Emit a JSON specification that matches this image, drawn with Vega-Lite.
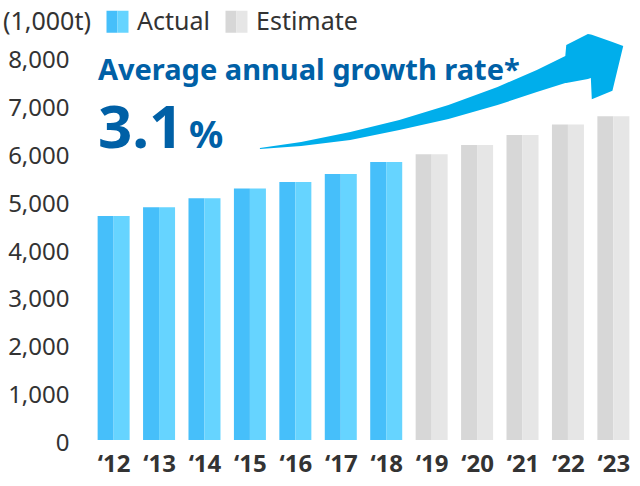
{
  "$schema": "https://vega.github.io/schema/vega-lite/v6.json",
  "width": 552,
  "height": 383,
  "autosize": {"type": "none"},
  "padding": {"left": 88, "top": 57, "right": 0, "bottom": 46},
  "background": "#ffffff",
  "config": {
    "view": {"stroke": null},
    "font": "Noto Sans",
    "axis": {"grid": false, "domain": false, "ticks": false, "title": null, "labelFont": "Noto Sans", "labelColor": "#333333"}
  },
  "datasets": {
    "bars": [
      {"year": 2012, "value": 4680, "type": "Actual"},
      {"year": 2013, "value": 4860, "type": "Actual"},
      {"year": 2014, "value": 5050, "type": "Actual"},
      {"year": 2015, "value": 5255, "type": "Actual"},
      {"year": 2016, "value": 5390, "type": "Actual"},
      {"year": 2017, "value": 5555, "type": "Actual"},
      {"year": 2018, "value": 5805, "type": "Actual"},
      {"year": 2019, "value": 5970, "type": "Estimate"},
      {"year": 2020, "value": 6160, "type": "Estimate"},
      {"year": 2021, "value": 6370, "type": "Estimate"},
      {"year": 2022, "value": 6590, "type": "Estimate"},
      {"year": 2023, "value": 6765, "type": "Estimate"}
    ],
    "arrow": [
      {"x": 2015.220, "upper": 6099, "lower": 6078},
      {"x": 2016.128, "upper": 6225, "lower": 6141},
      {"x": 2017.209, "upper": 6434, "lower": 6266},
      {"x": 2018.289, "upper": 6684, "lower": 6474},
      {"x": 2019.370, "upper": 6997, "lower": 6705},
      {"x": 2020.450, "upper": 7373, "lower": 6997},
      {"x": 2021.315, "upper": 7729, "lower": 7269},
      {"x": 2021.942, "upper": 8021, "lower": 7457},
      {"x": 2021.963, "upper": 8251, "lower": 7457},
      {"x": 2022.439, "upper": 8481, "lower": 7540},
      {"x": 2022.504, "upper": 8470, "lower": 7561},
      {"x": 2022.525, "upper": 8464, "lower": 7120},
      {"x": 2022.979, "upper": 8313, "lower": 7295},
      {"x": 2023.217, "upper": 8230, "lower": 8230}
    ]
  },
  "layer": [
    {
      "data": {"name": "bars"},
      "mark": {"type": "bar", "width": 16, "xOffset": -8},
      "encoding": {
        "x": {"field": "year", "type": "quantitative", "scale": {"domain": [2011.546, 2023.476], "nice": false, "zero": false},
          "axis": {"values": [2012, 2013, 2014, 2015, 2016, 2017, 2018, 2019, 2020, 2021, 2022, 2023],
            "labelExpr": "'‘' + slice(toString(datum.value), 2)", "labelFontSize": 24, "labelFontWeight": "bold",
            "labelFlush": false, "labelOverlap": false, "labelBound": false, "labelPadding": 12}},
        "y": {"field": "value", "type": "quantitative", "scale": {"domain": [0, 8000], "nice": false},
          "axis": {"values": [0, 1000, 2000, 3000, 4000, 5000, 6000, 7000, 8000], "format": ",d", "labelFontSize": 24, "labelPadding": 19, "labelOffset": 3.5}},
        "color": {"field": "type", "type": "nominal",
          "scale": {"domain": ["Actual", "Estimate"], "range": ["#46bffa", "#d7d7d7"]},
          "legend": {"orient": "none", "legendX": -85, "legendY": -48, "direction": "horizontal",
            "title": "(1,000t)", "titleOrient": "left", "titleFontSize": 25, "titleFontWeight": "normal", "titleColor": "#333333", "titleFont": "Noto Sans", "titlePadding": 14,
            "labelFontSize": 25, "labelColor": "#333333", "labelFont": "Noto Sans", "labelOffset": 7, "columnPadding": 14,
            "symbolType": "M -1 -1 L 0 -1 L 0 1 L -1 1 Z", "symbolSize": 484, "symbolStrokeWidth": 0, "symbolOpacity": 1}}
      }
    },
    {
      "data": {"name": "bars"},
      "mark": {"type": "bar", "width": 16, "xOffset": 8},
      "encoding": {
        "x": {"field": "year", "type": "quantitative"},
        "y": {"field": "value", "type": "quantitative"},
        "fill": {"field": "type", "type": "nominal",
          "scale": {"range": ["#66d4ff", "#e6e6e6"]},
          "legend": {"orient": "none", "legendX": -85, "legendY": -48, "direction": "horizontal",
            "title": "(1,000t)", "titleOrient": "left", "titleFontSize": 25, "titleFontWeight": "normal", "titleColor": "#333333", "titleOpacity": 0, "titleFont": "Noto Sans", "titlePadding": 14,
            "labelFontSize": 25, "labelColor": "#333333", "labelOpacity": 0, "labelFont": "Noto Sans", "labelOffset": 7, "columnPadding": 14,
            "symbolType": "M 0 -1 L 1 -1 L 1 1 L 0 1 Z", "symbolSize": 484, "symbolStrokeWidth": 0, "symbolOpacity": 1}}
      }
    },
    {
      "data": {"name": "arrow"},
      "mark": {"type": "area", "color": "#00aeeb", "orient": "vertical"},
      "encoding": {
        "x": {"field": "x", "type": "quantitative"},
        "y": {"field": "upper", "type": "quantitative"},
        "y2": {"field": "lower"}
      }
    },
    {
      "data": {"values": [{"label": "Average annual growth rate*"}]},
      "mark": {"type": "text", "align": "left", "baseline": "alphabetic", "font": "Noto Sans", "fontSize": 29, "fontWeight": "bold", "color": "#0060a6"},
      "encoding": {
        "x": {"datum": 2011.654, "type": "quantitative"},
        "y": {"datum": 7520, "type": "quantitative"},
        "text": {"field": "label"}
      }
    },
    {
      "data": {"values": [{"label": "3.1"}]},
      "mark": {"type": "text", "align": "left", "baseline": "alphabetic", "font": "Noto Sans", "fontSize": 60, "fontWeight": "bold", "color": "#0060a6"},
      "encoding": {
        "x": {"datum": 2011.654, "type": "quantitative"},
        "y": {"datum": 6099, "type": "quantitative"},
        "text": {"field": "label"}
      }
    },
    {
      "data": {"values": [{"label": "%"}]},
      "mark": {"type": "text", "align": "left", "baseline": "alphabetic", "font": "Noto Sans", "fontSize": 38, "fontWeight": "bold", "color": "#0060a6"},
      "encoding": {
        "x": {"datum": 2013.66, "type": "quantitative"},
        "y": {"datum": 6099, "type": "quantitative"},
        "text": {"field": "label"}
      }
    }
  ]
}
